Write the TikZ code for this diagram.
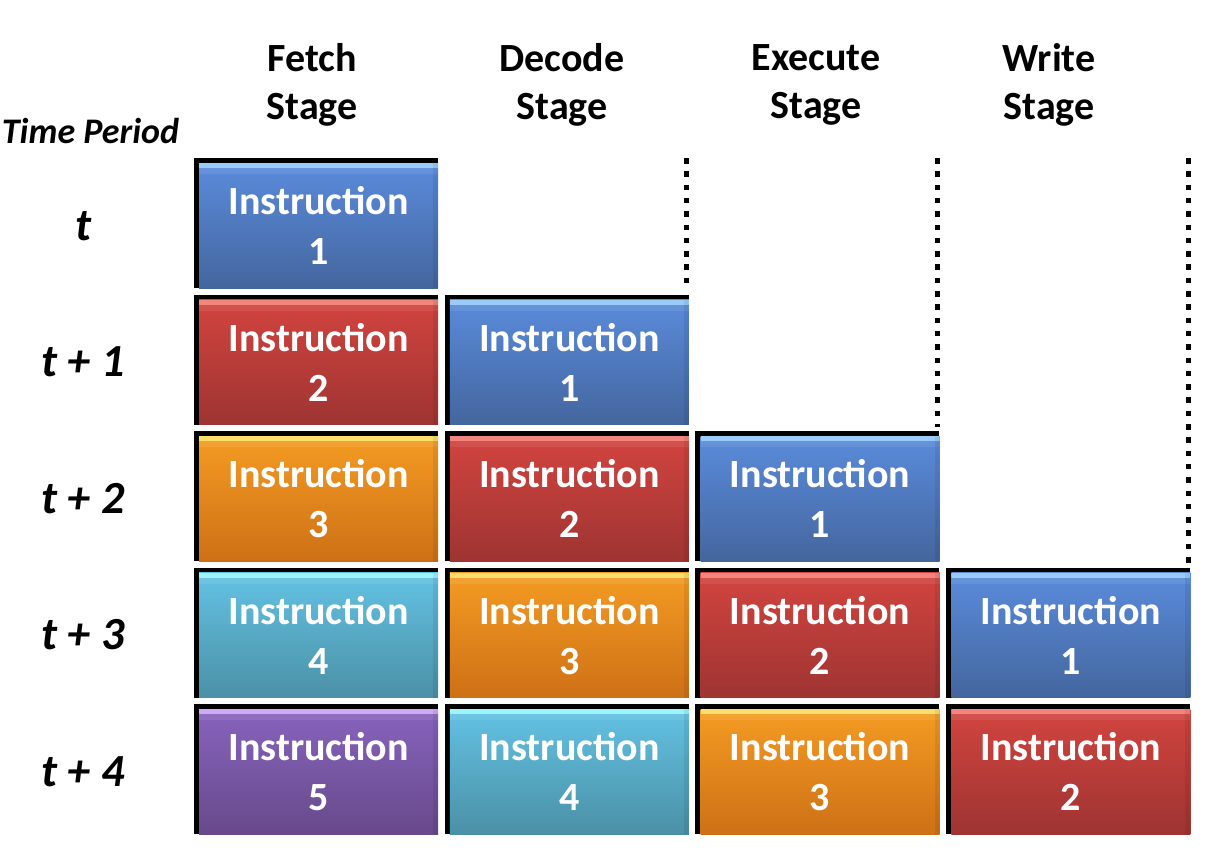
\documentclass[tikz,border=0pt]{standalone}
\usepackage{fontspec}
\setmainfont{Carlito}

\definecolor{blueLine}{HTML}{99CCF8}
\definecolor{blueTop}{HTML}{5A8BDB}
\definecolor{blueBot}{HTML}{44669E}
\definecolor{redLine}{HTML}{F2857D}
\definecolor{redTop}{HTML}{D2443F}
\definecolor{redBot}{HTML}{9E3432}
\definecolor{orangeLine}{HTML}{FCDF6A}
\definecolor{orangeTop}{HTML}{F49B23}
\definecolor{orangeBot}{HTML}{CE7016}
\definecolor{cyanLine}{HTML}{9BF5FF}
\definecolor{cyanTop}{HTML}{63C2E3}
\definecolor{cyanBot}{HTML}{4B90A6}
\definecolor{purpleLine}{HTML}{CDAAF5}
\definecolor{purpleTop}{HTML}{8763BD}
\definecolor{purpleBot}{HTML}{674A8A}

\tikzset{
  instr/.style={anchor=north west, minimum width=239pt, minimum height=125pt, inner sep=0pt,
    align=center, text=white, font=\fontsize{40}{50}\selectfont\bfseries,
    path picture={
      \fill[#1] (path picture bounding box.north west) rectangle ([yshift=-5pt]path picture bounding box.north east);
      \fill[white,opacity=0.08] ([yshift=-5pt]path picture bounding box.north west) rectangle ([yshift=-11pt]path picture bounding box.north east);
      \fill[black,opacity=0.07] (path picture bounding box.north east) rectangle ([xshift=-5pt]path picture bounding box.south east);
    }},
  ins1/.style={instr=blueLine, top color=blueTop, bottom color=blueBot},
  ins2/.style={instr=redLine, top color=redTop, bottom color=redBot},
  ins3/.style={instr=orangeLine, top color=orangeTop, bottom color=orangeBot},
  ins4/.style={instr=cyanLine, top color=cyanTop, bottom color=cyanBot},
  ins5/.style={instr=purpleLine, top color=purpleTop, bottom color=purpleBot},
  stage/.style={align=center, inner sep=0pt, font=\fontsize{40}{48}\selectfont\bfseries},
  period/.style={anchor=base, inner sep=0pt, font=\fontsize{46}{50}\selectfont\bfseries\itshape},
  dotline/.style={line width=5pt, dash pattern=on 5.5pt off 7.8pt}
}

\begin{document}
\begin{tikzpicture}[x=1pt,y=-1pt]
\useasboundingbox (0,0) rectangle (1219,852);

% stage headings
\node[stage] (fetch) at (312,85) {Fetch\\Stage};
\node[stage] (decode) at (562,85) {Decode\\Stage};
\node[stage] (execute) at (816,85) {Execute\\Stage};
\node[stage] (write) at (1049,85) {Write\\Stage};

\node[anchor=base, inner sep=0pt, font=\fontsize{36}{40}\selectfont\bfseries\itshape] (period) at (90.5,143) {Time Period};

% pipeline boxes
\foreach \r in {0,...,4}{
	\foreach \c in {0,...,3}{
		\pgfmathtruncatemacro{\n}{\r-\c+1}
		\ifnum\n>0
			\fill[black] ({194+250.7*\c},{158+136.5*\r}) rectangle ++(244,130);
			\node[ins\n] (b\r\c) at ({199+250.7*\c},{163+136.5*\r}) {Instruction\\\n};
		\fi
	}
}

% time labels
\node[period] (t0) at (83,240) {t};
\foreach \r in {1,2,3,4}{
	\node[period] (t\r) at (83,{240+136.5*\r}) {t + \r};
}

% dotted separators
\foreach \k in {1,2,3}{
	\draw[dotline] ([xshift=-2.5pt]b\k\k.north east |- 0,158) -- ([xshift=-2.5pt,yshift=9pt]b\k\k.north east);
}
\end{tikzpicture}
\end{document}
